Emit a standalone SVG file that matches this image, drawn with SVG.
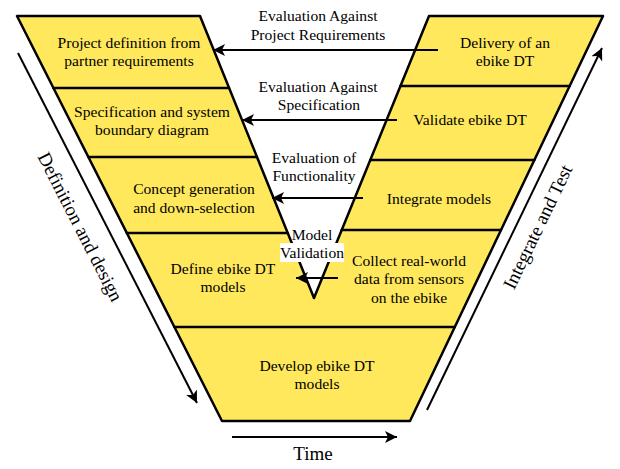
<svg xmlns="http://www.w3.org/2000/svg" width="620" height="469" viewBox="0 0 620 469">
<defs>
<marker id="arr" markerUnits="userSpaceOnUse" markerWidth="14" markerHeight="12" refX="12" refY="6" orient="auto" viewBox="0 0 14 12">
<path d="M0,0 L12,6 L0,12 L3,6 Z" fill="#000"/>
</marker>
<style>
.blk{fill:#FFE85C;stroke:none}
.edge{stroke:#000;stroke-width:2.5;fill:none;stroke-linecap:round;stroke-linejoin:round}
.t{font-family:"Liberation Serif","Times New Roman",serif;font-size:15.6px;fill:#000;text-anchor:middle}
.big{font-family:"Liberation Serif","Times New Roman",serif;font-size:19px;fill:#000;text-anchor:middle}
.con{stroke:#000;stroke-width:2;fill:none;marker-end:url(#arr)}
</style>
</defs>
<rect width="620" height="469" fill="#fff"/>

<g id="project-definition">
<polygon class="blk" points="17,16 200,16 229,88 53.4,88"/>
<text class="t" x="129" y="48">Project definition from</text>
<text class="t" x="129" y="66">partner requirements</text>
</g>
<g id="specification">
<polygon class="blk" points="53.4,88 229,88 256.9,157 88.3,157"/>
<text class="t" x="152" y="117">Specification and system</text>
<text class="t" x="152" y="135">boundary diagram</text>
</g>
<g id="concept-generation">
<polygon class="blk" points="88.3,157 256.9,157 287.6,233 126.8,233"/>
<text class="t" x="194" y="194">Concept generation</text>
<text class="t" x="194" y="213">and down-selection</text>
</g>
<g id="define-models">
<polygon class="blk" points="126.8,233 287.6,233 314,298 314.5,327.5 174.4,327.5"/>
<text class="t" x="223" y="274">Define ebike DT</text>
<text class="t" x="223" y="292">models</text>
</g>
<g id="develop-models">
<polygon class="blk" points="174.4,327 454.8,327 410,421 222,421"/>
<text class="t" x="317" y="371">Develop ebike DT</text>
<text class="t" x="317" y="389">models</text>
</g>
<g id="delivery">
<polygon class="blk" points="429,16 603,16 569.6,86 400.4,86"/>
<text class="t" x="505" y="48">Delivery of an</text>
<text class="t" x="505" y="66">ebike DT</text>
</g>
<g id="validate">
<polygon class="blk" points="400.4,86 569.6,86 534.4,160 370.2,160"/>
<text class="t" x="470" y="125">Validate ebike DT</text>
</g>
<g id="integrate">
<polygon class="blk" points="370.2,160 534.4,160 501,230 341.7,230"/>
<text class="t" x="439" y="204">Integrate models</text>
</g>
<g id="collect-data">
<polygon class="blk" points="341.7,230 501,230 454.8,327.5 313.5,327.5 314,298"/>
<text class="t" x="409" y="266">Collect real-world</text>
<text class="t" x="409" y="284">data from sensors</text>
<text class="t" x="409" y="303">on the ebike</text>
</g>

<g id="frame">
<path class="edge" d="M17,16 L200,16 L314,298 L429,16 L603,16 L410,421 L222,421 Z"/>
<line class="edge" x1="53.4" y1="88" x2="229" y2="88"/>
<line class="edge" x1="88.3" y1="157" x2="256.9" y2="157"/>
<line class="edge" x1="126.8" y1="233" x2="287.6" y2="233"/>
<line class="edge" x1="400.4" y1="86" x2="569.6" y2="86"/>
<line class="edge" x1="370.2" y1="160" x2="534.4" y2="160"/>
<line class="edge" x1="341.7" y1="230" x2="501" y2="230"/>
<line class="edge" x1="174.4" y1="327" x2="454.8" y2="327"/>
</g>

<g id="connectors">
<line class="con" x1="438" y1="50" x2="213" y2="50"/>
<line class="con" x1="397" y1="120" x2="242" y2="120"/>
<line class="con" x1="363" y1="198" x2="272" y2="198"/>
<line class="con" x1="338" y1="278" x2="296" y2="278"/>
<line class="con" x1="18" y1="53" x2="197" y2="403"/>
<line class="con" x1="427" y1="410" x2="602" y2="48"/>
<line class="con" x1="232" y1="437" x2="397" y2="437"/>
</g>

<g id="labels">
<text class="t" x="318" y="21">Evaluation Against</text>
<text class="t" x="318" y="40">Project Requirements</text>
<text class="t" x="318" y="92">Evaluation Against</text>
<text class="t" x="319" y="110">Specification</text>
<text class="t" x="314" y="163">Evaluation of</text>
<text class="t" x="314" y="181">Functionality</text>
<rect x="280" y="243" width="64" height="19" fill="#fff"/>
<text class="t" x="312" y="240">Model</text>
<text class="t" x="312" y="258">Validation</text>
<text class="big" transform="translate(80,227) rotate(62.9)" y="6">Definition and design</text>
<text class="big" transform="translate(538,227) rotate(-64.2)" y="6">Integrate and Test</text>
<text class="big" x="313" y="460">Time</text>
</g>
</svg>
